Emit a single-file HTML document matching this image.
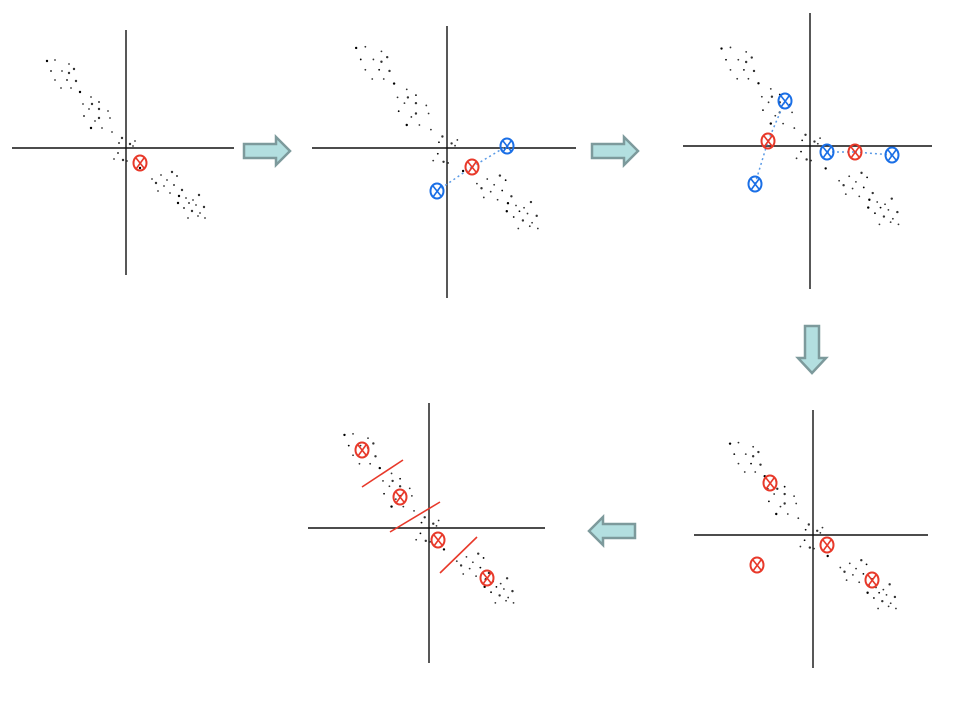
<!DOCTYPE html>
<html><head><meta charset="utf-8"><style>
html,body{margin:0;padding:0;background:#fff;width:954px;height:703px;overflow:hidden}
svg{display:block}
</style></head><body>
<svg id="s" width="954" height="703" viewBox="0 0 954 703">
  <g id="arrows" fill="#b3dfe0" stroke="#7d9a9c" stroke-width="2.5" stroke-linejoin="miter">
    <polygon points="244,144 276,144 276,137 290,151 276,165 276,158 244,158"/>
    <polygon points="592,144 624,144 624,137 638,151 624,165 624,158 592,158"/>
    <polygon points="805,326 819,326 819,358 826,358 812,373 798,358 805,358"/>
    <polygon points="635,524 603,524 603,517 589,531 603,545 603,538 635,538"/>
  </g>
</svg>
<script>
const NS='http://www.w3.org/2000/svg';
const svg=document.getElementById('s');
// base point cloud (relative to origin)
const cloudX=[-79,-71,-57,-52,-75,-64,-57,-71,-59,-50,-65,-55,-46,-35,-43,-34,-27,-37,-27,-18,-42,-27,-16,-31,-35,-24,-14,-4,-7,9,4,7,-8,-3,-12,1,14,26,35,46,51,41,30,38,48,56,32,44,53,60,67,73,63,70,78,74,58,66,72,79,52,62];
const cloudY=[-87,-88,-84,-79,-77,-77,-75,-68,-68,-67,-60,-60,-56,-51,-44,-44,-46,-39,-39,-37,-32,-30,-30,-27,-20,-20,-16,-10,-5,-7,-4,-2,5,12,11,13,20,31,27,24,28,32,35,38,37,42,43,45,48,50,52,47,55,57,59,65,60,63,68,70,55,70];
// panels: origin, axes extents, cloud scale
const panelOX=[126,447,810,813,429];
const panelOY=[148,148,146,535,528];
const hx0=[12,312,683,694,308], hx1=[234,576,932,928,545];
const vy0=[30,26,13,410,403], vy1=[275,298,289,668,663];
const scaleK=[1,1.15,1.12,1.05,1.07];
// centroid markers
const markX=[140,472,768,855,770,827,757,872,362,400,438,487];
const markY=[163,167,141,152,483,545,565,580,450,497,540,578];
const blueX=[507,437,785,755,827,892];
const blueY=[146,191,101,184,152,155];
const dashX1=[437,472,755,768,827,855], dashY1=[191,167,184,141,152,152];
const dashX2=[472,507,768,785,855,892], dashY2=[167,146,141,101,152,155];
const bndX1=[362,390,440], bndY1=[487,532,573], bndX2=[403,440,477], bndY2=[460,502,537];
function mk(t,a){const e=document.createElementNS(NS,t);for(const k in a)e.setAttribute(k,a[k]);svg.appendChild(e);return e;}
for(let p=0;p<5;p++){
  const h=mk('line',{x1:hx0[p],y1:panelOY[p],x2:hx1[p],y2:panelOY[p],stroke:'#111','stroke-width':1.4});
  
  
  const v=mk('line',{x1:panelOX[p],y1:vy0[p],x2:panelOX[p],y2:vy1[p],stroke:'#111','stroke-width':1.4});
  
  
  for(let i=0;i<cloudX.length;i++){
    const c=mk('circle',{cx:panelOX[p]+cloudX[i]*scaleK[p],cy:panelOY[p]+cloudY[i]*scaleK[p],r:(i%3==0)?1.2:0.9,fill:(i%4==0)?'#000':'#333'});
    
    
  }
}
for(let i=0;i<dashX1.length;i++){
  const l=mk('line',{x1:dashX1[i],y1:dashY1[i],x2:dashX2[i],y2:dashY2[i],stroke:'#5a9ae6','stroke-width':1.5,'stroke-dasharray':'2,3'});
  
  
}
for(let i=0;i<bndX1.length;i++){
  const l=mk('line',{x1:bndX1[i],y1:bndY1[i],x2:bndX2[i],y2:bndY2[i],stroke:'#e8392a','stroke-width':1.6});
  
  
}
function marker(x,y,col,name){
  const e=mk('ellipse',{cx:x,cy:y,rx:6.5,ry:7.5,fill:'none',stroke:col,'stroke-width':2});
  
  
  const p=mk('path',{d:`M${x-4} ${y-5}L${x+4} ${y+5}M${x+4} ${y-5}L${x-4} ${y+6}`,stroke:col,'stroke-width':1.6,fill:'none'});
  
  
}
for(let i=0;i<markX.length;i++)marker(markX[i],markY[i],'#e8392a','centroid');
for(let i=0;i<blueX.length;i++)marker(blueX[i],blueY[i],'#1a6fe6','split-centroid');
</script>
</body></html>
